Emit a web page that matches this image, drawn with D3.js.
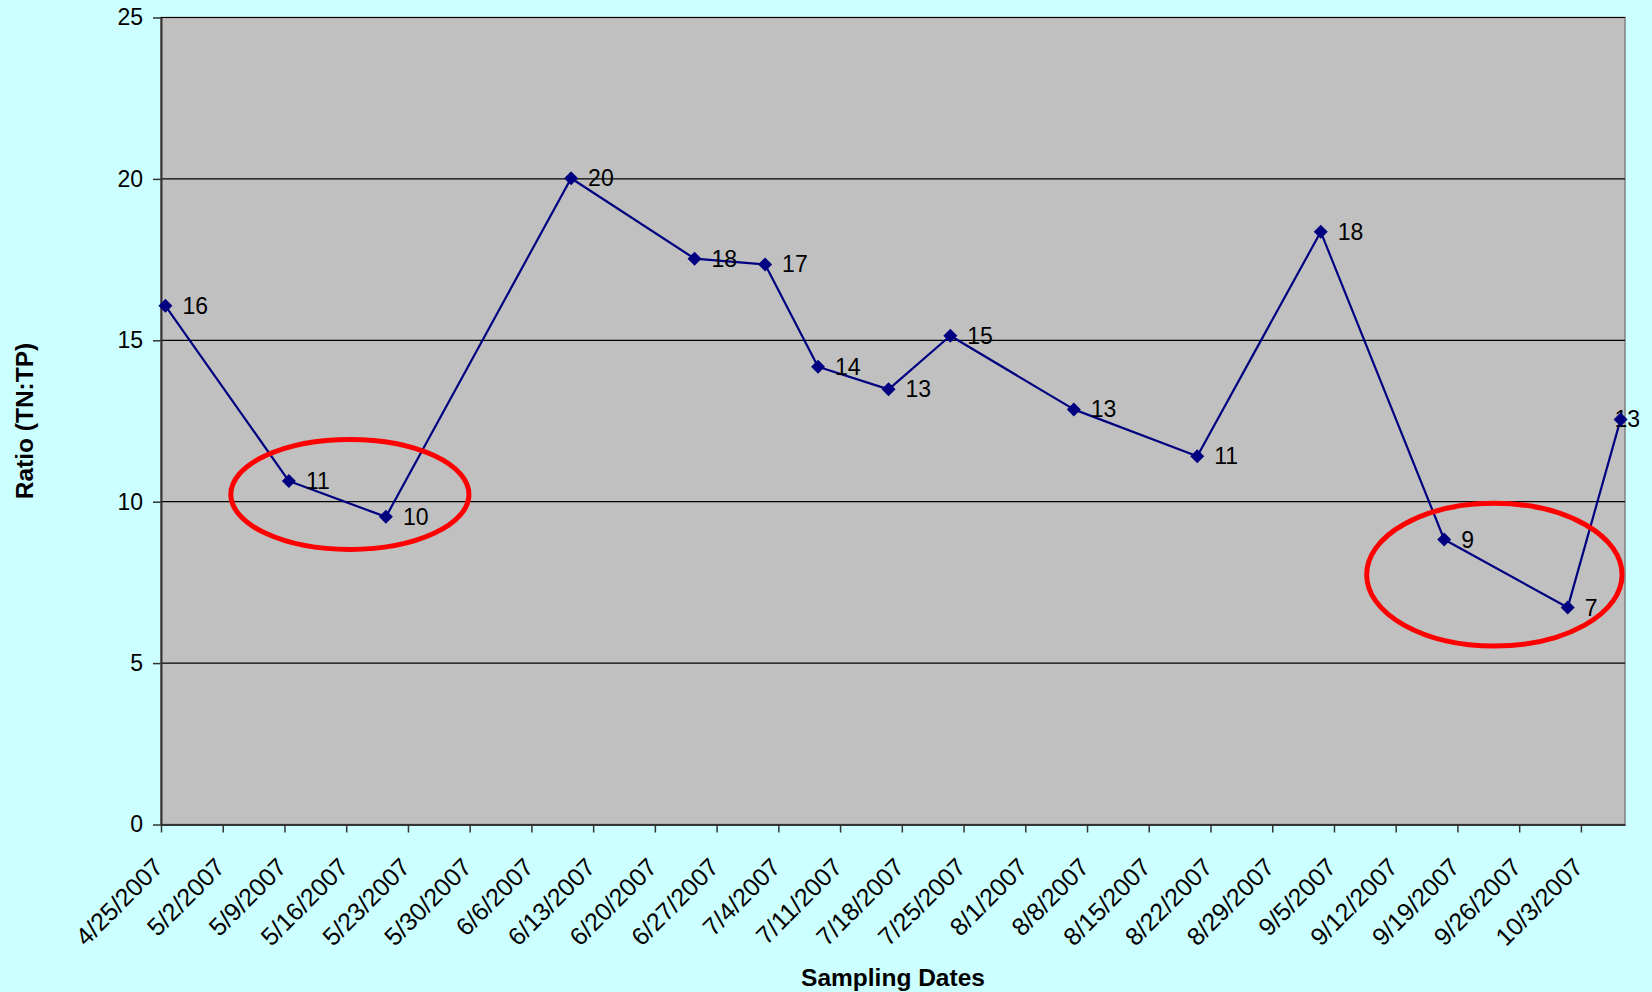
<!DOCTYPE html>
<html>
<head>
<meta charset="utf-8">
<script src="https://cdn.jsdelivr.net/npm/d3@7"></script>
<style>
  html, body { margin: 0; padding: 0; background: #CCFFFF; }
  svg { display: block; font-family: "Liberation Sans", Arial, sans-serif; }
</style>
</head>
<body>
<svg id="chart" width="1652" height="992"></svg>
<script>
// Sampling dates and TN:TP ratios
const sampleDates = ["2007-04-25", "2007-05-09", "2007-05-20", "2007-06-10", "2007-06-24",
  "2007-07-02", "2007-07-08", "2007-07-16", "2007-07-23", "2007-08-06", "2007-08-20",
  "2007-09-03", "2007-09-17", "2007-10-01", "2007-10-07"];
const ratioValues = [16.07, 10.64, 9.53, 20.02, 17.53, 17.35, 14.18, 13.48, 15.14,
  12.86, 11.41, 18.36, 8.83, 6.72, 12.55];

// Axis tick labels
const yTickValues = [0, 5, 10, 15, 20, 25];
const xTickLabels = ["4/25/2007", "5/2/2007", "5/9/2007", "5/16/2007", "5/23/2007",
  "5/30/2007", "6/6/2007", "6/13/2007", "6/20/2007", "6/27/2007", "7/4/2007",
  "7/11/2007", "7/18/2007", "7/25/2007", "8/1/2007", "8/8/2007", "8/15/2007",
  "8/22/2007", "8/29/2007", "9/5/2007", "9/12/2007", "9/19/2007", "9/26/2007",
  "10/3/2007"];
const axisStart = "2007-04-25";
const axisEnd = "2007-10-08";

// Highlighted low-ratio periods (date span and ratio span of each ring)
const ringStarts = ["2007-05-02T22:00", "2007-09-08T17:00"];
const ringEnds = ["2007-05-29T22:00", "2007-10-07T16:00"];
const ringLows = [8.52, 5.53];
const ringHighs = [11.93, 9.95];

const xTitle = "Sampling Dates";
const yTitle = "Ratio (TN:TP)";

const W = 1652, H = 992;
const margin = { left: 161, right: 27, top: 17.5, bottom: 167.5 };
const svg = d3.select("#chart");

const parseDay = d3.timeParse("%Y-%m-%d");
const parseTime = d3.timeParse("%Y-%m-%dT%H:%M");
const parseLabel = d3.timeParse("%m/%d/%Y");

const x = d3.scaleTime()
  .domain([parseDay(axisStart), parseDay(axisEnd)])
  .range([margin.left, W - margin.right]);
const y = d3.scaleLinear()
  .domain([0, 25])
  .range([H - margin.bottom, margin.top]);

// Points sit in the middle of their day slot
const halfDay = 12 * 3600 * 1000;
const points = sampleDates.map((d, i) => ({
  date: new Date(parseDay(d).getTime() + halfDay),
  value: ratioValues[i]
}));

// Plot area
svg.append("rect")
  .attr("x", x.range()[0]).attr("y", y.range()[1])
  .attr("width", x.range()[1] - x.range()[0])
  .attr("height", y.range()[0] - y.range()[1])
  .attr("fill", "#C0C0C0")
  .attr("stroke", "#808080").attr("stroke-width", 1.5);

// Horizontal gridlines
svg.append("g")
  .selectAll("line")
  .data(yTickValues.filter(v => v > 0))
  .join("line")
  .attr("x1", x.range()[0]).attr("x2", x.range()[1])
  .attr("y1", d => y(d)).attr("y2", d => y(d))
  .attr("stroke", "#000").attr("stroke-width", 1.2);

// Y axis
const yAxis = svg.append("g")
  .attr("transform", `translate(${x.range()[0]},0)`)
  .call(d3.axisLeft(y).tickValues(yTickValues).tickSize(8).tickPadding(10).tickSizeOuter(0));
yAxis.select(".domain").attr("stroke", "#333").attr("stroke-width", 2);
yAxis.selectAll(".tick line").attr("stroke", "#333").attr("stroke-width", 1.5);
yAxis.selectAll(".tick text")
  .attr("font-size", 23).attr("fill", "#000")
  .attr("font-family", "'Liberation Sans', Arial, sans-serif");

// X axis
const xTickDates = xTickLabels.map(s => parseLabel(s));
const xAxis = svg.append("g")
  .attr("transform", `translate(0,${y.range()[0]})`)
  .call(d3.axisBottom(x).tickValues(xTickDates).tickSize(8).tickSizeOuter(0)
    .tickFormat((d, i) => xTickLabels[i]));
xAxis.select(".domain").attr("stroke", "#333").attr("stroke-width", 2);
xAxis.selectAll(".tick line").attr("stroke", "#333").attr("stroke-width", 1.5);
xAxis.selectAll(".tick text")
  .attr("font-size", 25).attr("fill", "#000")
  .attr("font-family", "'Liberation Sans', Arial, sans-serif")
  .attr("text-anchor", "end")
  .attr("y", 0).attr("dy", "0.35em")
  .attr("transform", "translate(-3,38) rotate(-45)");

// Series line
const line = d3.line().x(d => x(d.date)).y(d => y(d.value));
svg.append("path")
  .datum(points)
  .attr("d", line)
  .attr("fill", "none")
  .attr("stroke", "#000080")
  .attr("stroke-width", 2.2)
  .attr("stroke-linejoin", "round");

// Data labels (rounded ratio), kept inside the chart's right edge
const fmt = d3.format(".0f");
const labelRightLimit = W - 12;
svg.append("g")
  .selectAll("text")
  .data(points)
  .join("text")
  .attr("x", d => x(d.date) + 17)
  .attr("y", d => y(d.value))
  .attr("dy", "0.35em")
  .attr("font-size", 23)
  .attr("fill", "#000")
  .text(d => fmt(d.value))
  .each(function () {
    const el = d3.select(this);
    const len = this.getComputedTextLength();
    if (+el.attr("x") + len > labelRightLimit) {
      el.attr("x", labelRightLimit).attr("text-anchor", "end");
    }
  });

// Diamond markers
const r = 7;
const diamond = `M0,${-r}L${r},0L0,${r}L${-r},0Z`;
svg.append("g")
  .selectAll("path")
  .data(points)
  .join("path")
  .attr("d", diamond)
  .attr("transform", d => `translate(${x(d.date)},${y(d.value)})`)
  .attr("fill", "#000080");

// Highlight rings
const rings = ringStarts.map((s, i) => ({
  x0: x(parseTime(s)), x1: x(parseTime(ringEnds[i])),
  y0: y(ringHighs[i]), y1: y(ringLows[i])
}));
svg.append("g")
  .selectAll("ellipse")
  .data(rings)
  .join("ellipse")
  .attr("cx", d => (d.x0 + d.x1) / 2)
  .attr("cy", d => (d.y0 + d.y1) / 2)
  .attr("rx", d => (d.x1 - d.x0) / 2)
  .attr("ry", d => (d.y1 - d.y0) / 2)
  .attr("fill", "none")
  .attr("stroke", "#FF0000")
  .attr("stroke-width", 5);

// Axis titles
svg.append("text")
  .attr("x", (x.range()[0] + x.range()[1]) / 2)
  .attr("y", 986)
  .attr("text-anchor", "middle")
  .attr("font-size", 24.5)
  .attr("font-weight", "bold")
  .text(xTitle);

svg.append("text")
  .attr("transform", `translate(33,${(y.range()[0] + y.range()[1]) / 2}) rotate(-90)`)
  .attr("text-anchor", "middle")
  .attr("font-size", 24.5)
  .attr("font-weight", "bold")
  .text(yTitle);
</script>
</body>
</html>
